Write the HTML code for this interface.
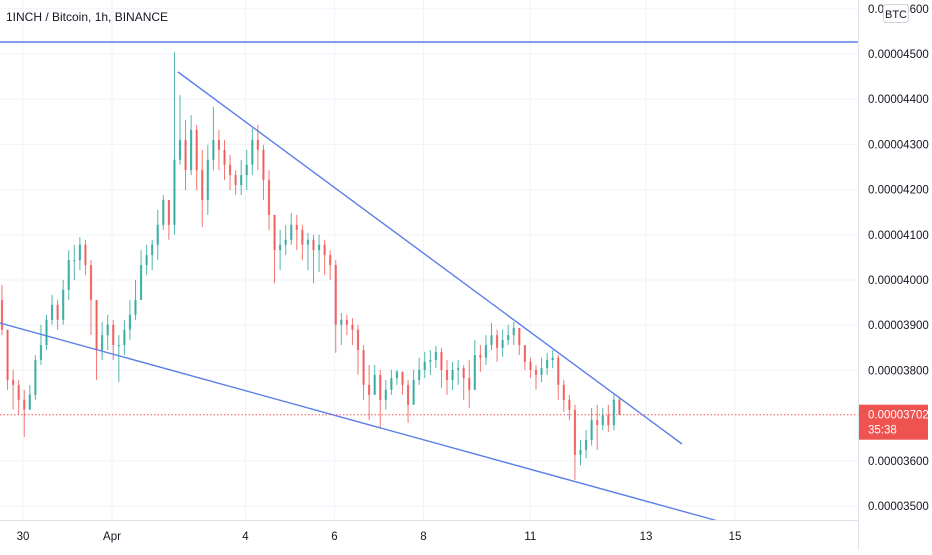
<!DOCTYPE html>
<html><head><meta charset="utf-8">
<style>
html,body{margin:0;padding:0;background:#fff;}
body{width:932px;height:550px;overflow:hidden;font-family:"Liberation Sans",sans-serif;}
svg text{font-family:"Liberation Sans",sans-serif;}
</style></head>
<body>
<svg id="chart" width="932" height="550" xmlns="http://www.w3.org/2000/svg">
  <g id="grid"></g>
  <g id="candles"></g>
  <line x1="0" y1="42" x2="858" y2="42" stroke="#5a7fe6" stroke-width="1.6"/>
  <line x1="178" y1="72" x2="682" y2="444" stroke="#5a7fe6" stroke-width="1.4"/>
  <line x1="0" y1="323" x2="718" y2="521" stroke="#5a7fe6" stroke-width="1.4"/>
  <g id="pline"></g>
  <rect x="858" y="0" width="74" height="550" fill="#fff"/>
  <rect x="0" y="520" width="932" height="30" fill="#fff"/>
  <line x1="858.5" y1="0" x2="858.5" y2="550" stroke="#e0e3eb"/>
  <line x1="0" y1="520.5" x2="858" y2="520.5" stroke="#e0e3eb"/>
  <g id="yaxis"></g>
  <g id="xaxis"></g>
  <text x="6" y="21" font-size="12" fill="#131722">1INCH / Bitcoin, 1h, BINANCE</text>
  <g>
    <rect x="883.5" y="4.5" width="25" height="18" rx="3" fill="#fff" stroke="#d1d4dc"/>
    <text x="896" y="18" font-size="11" fill="#131722" text-anchor="middle">BTC</text>
  </g>
  <g id="plabel"></g>
</svg>
<script>
const closes=[3890,3779,3768,3735,3713,3746,3823,3856,3912,3945,3912,3978,4044,4044,4078,4033,3956,3845,3878,3901,3856,3856,3890,3923,3956,4033,4055,4078,4122,4177,4122,4266,4310,4243,4332,4243,4177,4266,4310,4288,4255,4232,4210,4232,4255,4310,4288,4221,4144,4066,4078,4089,4122,4111,4078,4089,4066,4078,4055,4033,3901,3912,3901,3890,3845,3768,3746,3790,3735,3757,3783,3797,3768,3724,3779,3801,3819,3823,3841,3801,3779,3801,3805,3783,3757,3834,3828,3856,3878,3850,3867,3878,3894,3856,3819,3801,3790,3805,3823,3828,3768,3735,3713,3613,3624,3646,3690,3679,3701,3679,3735,3702];
const highs=[3989,3890,3801,3779,3757,3768,3834,3901,3923,3967,3956,4000,4066,4078,4095,4089,4044,3956,3907,3923,3912,3878,3912,3956,4000,4066,4078,4089,4155,4188,4177,4504,4409,4354,4365,4343,4288,4299,4383,4332,4310,4277,4243,4266,4288,4336,4343,4299,4243,4144,4111,4122,4148,4144,4122,4104,4100,4100,4089,4066,4044,3927,3923,3916,3901,3856,3812,3812,3801,3779,3801,3801,3797,3779,3801,3828,3841,3845,3854,3850,3823,3819,3823,3812,3823,3867,3856,3878,3905,3890,3890,3901,3907,3890,3856,3828,3812,3828,3839,3845,3834,3779,3746,3724,3646,3668,3717,3724,3717,3724,3746,3739];
const lows=[3878,3757,3713,3702,3653,3713,3735,3812,3845,3901,3890,3901,3956,4000,4022,4011,3878,3779,3823,3845,3823,3774,3834,3867,3912,3956,4011,4022,4044,4111,4089,4100,4255,4199,4232,4199,4117,4144,4243,4243,4221,4199,4188,4188,4199,4232,4243,4177,4111,3993,4022,4055,4078,4066,4044,4022,3993,4018,4011,4000,3839,3856,3878,3856,3790,3735,3690,3746,3673,3713,3746,3768,3746,3684,3735,3768,3783,3790,3805,3761,3746,3757,3768,3735,3717,3790,3797,3812,3845,3819,3830,3856,3856,3834,3801,3783,3757,3774,3790,3805,3735,3708,3690,3558,3590,3605,3634,3624,3668,3664,3668,3702];
const firstOpen=3956;
const lastPrice=3702;
const priceTicks=[4600,4500,4400,4300,4200,4100,4000,3900,3800,3600,3500];
const timeLabels=["30","Apr","4","6","8","11","13","15"];
const timeDays=[-2,0,3,5,7,9.4,12,14];

const NS="http://www.w3.org/2000/svg";
function yS(p){return 54+(4500-p)*0.452;}
function xS(i){return 2+i*5.5625;}
function xDay(d){return 112+d*44.5;}
function mk(tag,attrs,parent){const e=document.createElementNS(NS,tag);for(const k in attrs)e.setAttribute(k,attrs[k]);parent.appendChild(e);return e;}
function fmt(p){return "0.0000"+String(Math.round(p)).padStart(4,"0");}

const grid=document.getElementById('grid');
priceTicks.forEach(p=>{const l=mk('line',{x1:0,x2:858,y1:yS(p),y2:yS(p),stroke:'#f0f3fa'},grid);

});
timeDays.forEach(d=>{const l=mk('line',{x1:xDay(d),x2:xDay(d),y1:0,y2:520,stroke:'#f0f3fa'},grid);

});

const cg=document.getElementById('candles');
closes.forEach((c,i)=>{
  const o=i===0?firstOpen:closes[i-1];
  const up=c>=o;
  const col=up?'#26a69a':'#ef5350';
  const x=xS(i);
  const hi=Math.max(highs[i],o,c), lo=Math.min(lows[i],o,c);
  const g=mk('g',{},cg);
  
  
  mk('line',{x1:x,x2:x,y1:yS(hi),y2:yS(lo),stroke:col,'stroke-width':1,opacity:0.8},g);
  const t=yS(Math.max(o,c)),b=yS(Math.min(o,c));
  mk('rect',{x:x-1.1,y:t,width:2.2,height:Math.max(1,b-t),fill:col,opacity:0.75},g);
});

const pl=document.getElementById('pline');
const dl=mk('line',{x1:0,x2:858,y1:yS(lastPrice),y2:yS(lastPrice),stroke:'#ef5350','stroke-dasharray':'1.5 2','stroke-width':1},pl);



const ya=document.getElementById('yaxis');
priceTicks.forEach(p=>{const t=mk('text',{x:868,y:yS(p)+4,'font-size':11.5,fill:'#131722'},ya);t.textContent=fmt(p);

});

const xa=document.getElementById('xaxis');
timeLabels.forEach((s,i)=>{const t=mk('text',{x:xDay(timeDays[i]),y:540,'font-size':11.5,fill:'#131722','text-anchor':'middle'},xa);t.textContent=s;

});

const lb=document.getElementById('plabel');
const ly=yS(lastPrice);
mk('rect',{x:859,y:ly-10,width:69,height:35,fill:'#ef5350'},lb);
const t1=mk('text',{x:868,y:ly+4,'font-size':11.5,fill:'#fff'},lb);t1.textContent=fmt(lastPrice);
const t2=mk('text',{x:868,y:ly+19,'font-size':11.5,fill:'#fff'},lb);t2.textContent="35:38";
</script>
</body></html>
